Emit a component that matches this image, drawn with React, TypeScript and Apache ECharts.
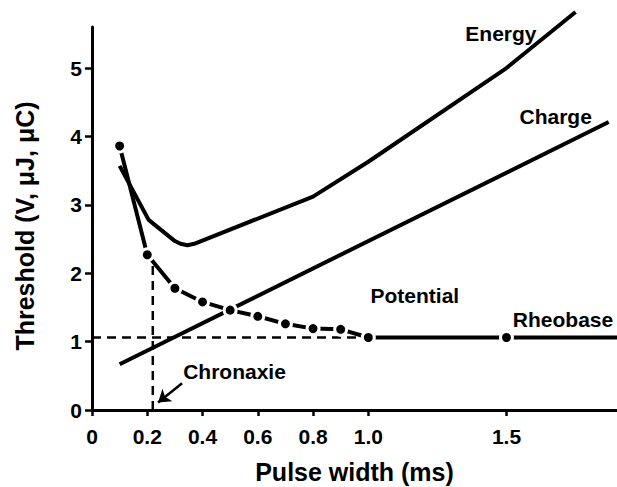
import React, { useEffect, useRef } from "react";
import * as echarts from "echarts";

// Axis ticks
const xTicks = [0, 0.2, 0.4, 0.6, 0.8, 1.0, 1.5];
const yTicks = [0, 1, 2, 3, 4, 5];

// Strength–duration curves (pulse width in ms)
const potentialX = [0.1, 0.2, 0.3, 0.4, 0.5, 0.6, 0.7, 0.8, 0.9, 1.0, 1.5, 1.9];
const potentialY = [3.86, 2.27, 1.78, 1.58, 1.46, 1.37, 1.26, 1.19, 1.18, 1.06, 1.06, 1.06];
const energyX = [0.1, 0.205, 0.3, 0.32, 0.345, 0.37, 0.8, 1.0, 1.5, 1.75];
const energyY = [3.57, 2.78, 2.47, 2.43, 2.41, 2.43, 3.12, 3.63, 5.0, 5.82];
const chargeX = [0.1, 1.87];
const chargeY = [0.67, 4.21];

// Reference levels
const rheobase = 1.06;
const rheobaseEndX = 1.0;
const chronaxie = 0.22;
const chronaxieTopY = 2.17;

// Curve and marker annotations (data coordinates, text starts at x)
const annotations = [
  { text: "Energy", x: 1.351, y: 5.51 },
  { text: "Charge", x: 1.547, y: 4.29 },
  { text: "Potential", x: 1.008, y: 1.68 },
  { text: "Rheobase", x: 1.523, y: 1.33 },
  { text: "Chronaxie", x: 0.33, y: 0.556 },
];
const arrowFrom = [0.326, 0.39];
const arrowTo = [0.239, 0.11];

const xTitle = "Pulse width (ms)";
const yTitle = "Threshold (V, \u03bcJ, \u03bcC)";

const FONT = "'Liberation Sans', Arial, Helvetica, sans-serif";

export default function App() {
  const ref = useRef<HTMLDivElement>(null);

  useEffect(() => {
    document.body.style.margin = "0";
    if (!ref.current) return;
    const chart = echarts.init(ref.current, null, { renderer: "svg" });

    const zip = (xs: number[], ys: number[]) => xs.map((x, i) => [x, ys[i]]);
    const potentialData = potentialX.map((x, i) =>
      i === potentialX.length - 1
        ? { value: [x, potentialY[i]], symbol: "none" }
        : { value: [x, potentialY[i]] }
    );

    const axisLine = { show: true, onZero: false, lineStyle: { color: "#000", width: 3 } };
    const tickLabel = {
      color: "#000",
      fontFamily: FONT,
      fontWeight: "bold" as const,
      fontSize: 21,
    };

    chart.setOption({
      animation: false,
      backgroundColor: "#fff",
      grid: {
        left: 92,
        right: 0,
        top: 27,
        bottom: 77,
        containLabel: false,
        outerBoundsMode: "none",
      },
      xAxis: {
        type: "value",
        min: 0,
        max: 1.9,
        interval: 0.1,
        name: xTitle,
        nameLocation: "middle",
        nameGap: 49,
        nameTextStyle: { color: "#000", fontFamily: FONT, fontWeight: "bold", fontSize: 25 },
        axisLine,
        splitLine: { show: false },
        axisTick: {
          show: true,
          length: 6,
          customValues: xTicks,
          lineStyle: { color: "#000", width: 2.5 },
        },
        axisLabel: {
          ...tickLabel,
          customValues: xTicks,
          margin: 16,
          formatter: (v: number) => (v === 0 ? "0" : v.toFixed(1)),
        },
      },
      yAxis: {
        type: "value",
        min: 0,
        max: 5.6,
        interval: 1,
        axisLine,
        splitLine: { show: false },
        axisTick: {
          show: true,
          length: 7,
          customValues: yTicks,
          lineStyle: { color: "#000", width: 2.5 },
        },
        axisLabel: {
          ...tickLabel,
          customValues: yTicks,
          margin: 10,
          formatter: (v: number) => String(v),
        },
      },
      series: [
        {
          name: "Rheobase",
          type: "line",
          data: [
            [0, rheobase],
            [rheobaseEndX, rheobase],
          ],
          symbol: "none",
          lineStyle: { color: "#000", width: 2.5, type: [9, 6] },
          silent: true,
          z: 1,
        },
        {
          name: "Chronaxie",
          type: "line",
          data: [
            [chronaxie, 0],
            [chronaxie, chronaxieTopY],
          ],
          symbol: "none",
          lineStyle: { color: "#000", width: 2.5, type: [9, 6] },
          silent: true,
          z: 1,
          markLine: {
            silent: true,
            symbol: ["none", "arrow"],
            symbolSize: 12,
            label: { show: false },
            lineStyle: { color: "#000", width: 2.5, type: "solid" },
            data: [[{ coord: arrowFrom }, { coord: arrowTo }]],
          },
        },
        {
          name: "Charge",
          type: "line",
          data: zip(chargeX, chargeY),
          symbol: "none",
          lineStyle: { color: "#000", width: 4 },
          z: 2,
        },
        {
          name: "Energy",
          type: "line",
          data: zip(energyX, energyY),
          symbol: "none",
          clip: false,
          lineStyle: { color: "#000", width: 4, join: "round" },
          z: 2,
        },
        {
          name: "Potential",
          type: "line",
          data: potentialData,
          symbol: "circle",
          symbolSize: 12,
          showAllSymbol: true,
          itemStyle: { color: "#000", borderColor: "#fff", borderWidth: 3 },
          lineStyle: { color: "#000", width: 4 },
          z: 3,
        },
      ],
    });

    const graphic: any[] = annotations.map((a) => {
      const [px, py] = chart.convertToPixel({ gridIndex: 0 }, [a.x, a.y]) as number[];
      return {
        type: "text",
        x: px,
        y: py,
        silent: true,
        style: {
          text: a.text,
          fill: "#000",
          font: `bold 21px ${FONT}`,
          textAlign: "left",
          verticalAlign: "middle",
        },
      };
    });
    // Vertical axis title, set a little below the plot's middle
    graphic.push({
      type: "text",
      x: 25,
      y: 226,
      rotation: Math.PI / 2,
      silent: true,
      style: {
        text: yTitle,
        fill: "#000",
        font: `bold 25px ${FONT}`,
        textAlign: "center",
        verticalAlign: "middle",
      },
    });
    chart.setOption({ graphic });

    return () => chart.dispose();
  }, []);

  return <div ref={ref} style={{ width: 617, height: 487 }} />;
}
